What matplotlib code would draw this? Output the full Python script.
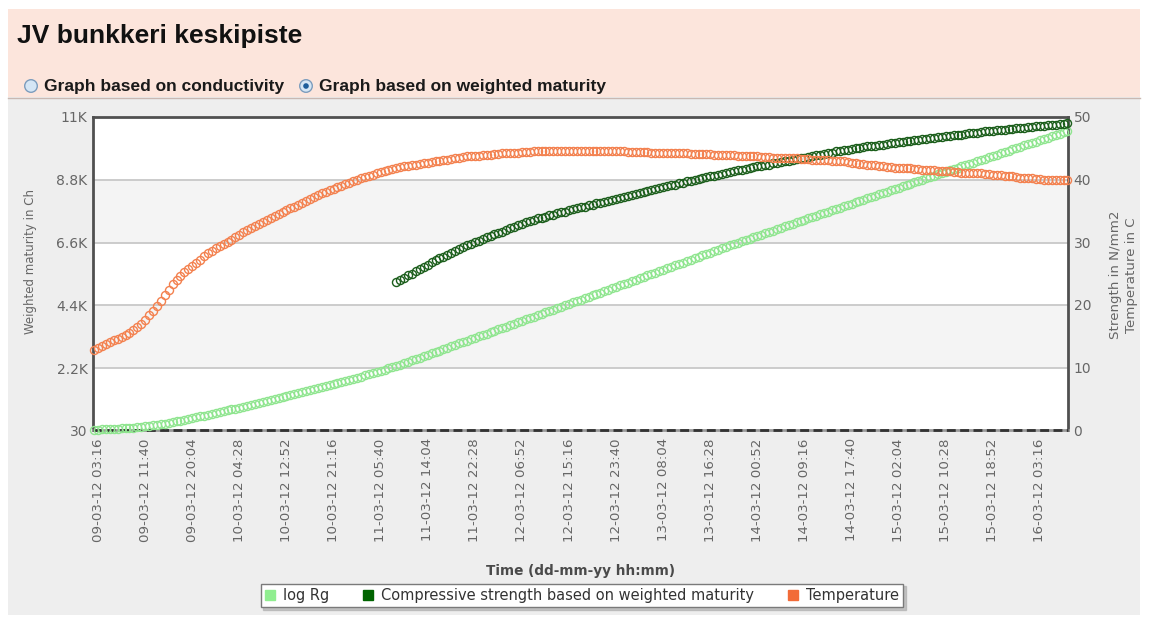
import matplotlib
matplotlib.use("Agg")
import matplotlib.pyplot as plt
from matplotlib.lines import Line2D
from matplotlib.patches import Rectangle, Circle
import numpy as np
import pandas as pd

TITLE = "JV bunkkeri keskipiste"
MODE_OPTIONS = ["Graph based on conductivity", "Graph based on weighted maturity"]
SELECTED_MODE = 1

SERIES_NAMES = ["log Rg", "Compressive strength based on weighted maturity", "Temperature"]

# sampling of the logger (one reading every 42 minutes)
SAMPLE_START = "09-03-12 02:34"
STRENGTH_START = "11-03-12 08:28"
SAMPLE_STEP_MIN = 42

# weighted maturity, Ch (left axis)
LOG_RG = [
    40, 46, 52, 58, 65, 72, 79, 87, 95, 104, 113,
    127, 142, 158, 175, 193, 212, 232, 253, 275,
    302, 330, 358, 386, 415, 444, 474, 504,
    534, 564, 594, 625, 656, 687, 719, 751, 783,
    815, 848, 881, 914, 947, 981, 1015, 1049,
    1082, 1115, 1148, 1181, 1215, 1249, 1283, 1317, 1351,
    1385, 1419, 1453, 1488, 1523, 1558, 1593, 1628,
    1666, 1704, 1743, 1782, 1822, 1862, 1903, 1944,
    1984, 2024, 2064, 2104, 2144, 2186, 2228, 2270,
    2320, 2369, 2419, 2468, 2518, 2567, 2617, 2666, 2716, 2765,
    2815, 2864, 2914, 2963, 3013, 3062, 3112, 3161, 3211, 3260,
    3310, 3359, 3409, 3458, 3508, 3557, 3607, 3656, 3706, 3755,
    3805, 3854, 3904, 3953, 4003, 4052, 4102, 4151, 4201, 4250,
    4300, 4349, 4399,
    4449, 4499, 4549, 4599, 4649, 4699, 4749, 4799, 4849, 4899,
    4949, 4999, 5049, 5099, 5149, 5199, 5249, 5299, 5349, 5399,
    5449, 5499, 5549, 5599, 5649, 5699, 5749, 5799, 5849, 5899,
    5949, 5999, 6049, 6099, 6149, 6199, 6249, 6299, 6349, 6399,
    6449, 6499, 6549, 6599,
    6646, 6693, 6740, 6787, 6834, 6881, 6928, 6975, 7022, 7069,
    7116, 7163, 7210, 7257, 7304, 7351, 7398, 7445, 7492, 7539,
    7586, 7633, 7680, 7727, 7774, 7821, 7868, 7915, 7962, 8009,
    8056, 8103, 8150, 8197, 8244, 8291, 8338, 8385, 8432, 8479,
    8526, 8573, 8620, 8667, 8714, 8761,
    8807, 8853, 8899, 8945, 8991, 9037, 9083, 9129, 9175, 9221,
    9267, 9313, 9359, 9405, 9451, 9497, 9543, 9589, 9635, 9681,
    9727, 9773, 9819, 9865, 9911, 9957, 10003, 10049, 10095, 10141,
    10187, 10233, 10279, 10325, 10371, 10417, 10463, 10509,
]

# compressive strength, N/mm2 (right axis)
STRENGTH = [
    23.6, 24.0, 24.3, 24.7, 25.0, 25.4, 25.7, 26.1, 26.4, 26.8,
    27.1, 27.4, 27.7, 28.0, 28.3, 28.6, 28.9, 29.2,
    29.5, 29.7, 30.0, 30.2, 30.5, 30.8, 31.0, 31.3, 31.5,
    31.7, 32.0, 32.2, 32.5, 32.7, 32.9, 33.2, 33.4,
    33.6, 33.8, 33.9, 34.1, 34.3, 34.4, 34.6, 34.8, 34.9, 35.1, 35.3, 35.4, 35.6,
    35.7, 35.9, 36.0, 36.2, 36.3, 36.5, 36.6, 36.8, 36.9, 37.1, 37.2, 37.4, 37.5, 37.7, 37.8, 38.0,
    38.2, 38.3, 38.5, 38.6, 38.8, 38.9, 39.1, 39.2,
    39.4, 39.5, 39.7, 39.8, 39.9, 40.1, 40.2, 40.4, 40.5,
    40.6, 40.8, 40.9, 41.0, 41.2, 41.3, 41.5, 41.6,
    41.7, 41.8, 42.0, 42.1, 42.2, 42.3, 42.4, 42.6, 42.7,
    42.8, 42.9, 43.0, 43.2, 43.3, 43.4, 43.5, 43.6, 43.8, 43.9, 44.0, 44.1,
    44.2, 44.3, 44.5, 44.6, 44.7, 44.8, 44.9,
    45.0, 45.1, 45.2, 45.3, 45.4, 45.4, 45.5, 45.6, 45.7,
    45.8, 45.9, 46.0, 46.0, 46.1, 46.2, 46.3, 46.4, 46.5,
    46.5, 46.6, 46.7, 46.8, 46.8, 46.9, 47.0, 47.1,
    47.1, 47.2, 47.3, 47.4, 47.4, 47.5, 47.6, 47.7, 47.7,
    47.8, 47.9, 47.9, 48.0, 48.1, 48.1, 48.2, 48.3,
    48.3, 48.4, 48.4, 48.5, 48.6, 48.6, 48.7, 48.7, 48.8, 48.9, 48.9, 49.0,
]

# concrete temperature, C (right axis)
TEMPERATURE = [
    12.8, 13.1, 13.4, 13.7, 14.0, 14.3, 14.6, 14.9, 15.2, 15.5, 15.9,
    16.4, 17.0, 17.6, 18.3, 19.0,
    19.8, 20.6, 21.5, 22.4, 23.3,
    24.0, 24.6, 25.2, 25.7,
    26.2, 26.7, 27.2, 27.8, 28.2,
    28.6, 29.0, 29.4, 29.7, 30.1,
    30.4, 30.8, 31.2, 31.6, 32.0, 32.3,
    32.6, 32.9, 33.3, 33.6, 33.9, 34.2, 34.5, 34.8,
    35.1, 35.4, 35.7, 36.0, 36.3, 36.6, 36.9, 37.2, 37.5,
    37.8, 38.0, 38.3, 38.5, 38.8, 39.0, 39.3, 39.5, 39.8, 40.0, 40.2,
    40.4, 40.6, 40.8, 41.0, 41.2, 41.4, 41.5, 41.7, 41.9,
    42.0, 42.1, 42.2, 42.3, 42.4, 42.5, 42.6, 42.7, 42.8,
    42.9, 43.0, 43.1, 43.2, 43.3, 43.4, 43.5, 43.6,
    43.7, 43.7, 43.8, 43.8, 43.9, 44.0, 44.0, 44.1, 44.1,
    44.2, 44.2, 44.3, 44.3, 44.3, 44.4, 44.4, 44.4,
    44.5, 44.5, 44.5, 44.5, 44.6, 44.6, 44.6, 44.6, 44.6, 44.6, 44.6, 44.6, 44.6,
    44.6, 44.6, 44.6, 44.6, 44.6, 44.5, 44.5, 44.5, 44.5, 44.5, 44.5, 44.4, 44.4, 44.4, 44.4, 44.4,
    44.4, 44.3, 44.3, 44.3, 44.3, 44.2, 44.2, 44.2,
    44.2, 44.2, 44.2, 44.1, 44.1, 44.1, 44.1, 44.1,
    44.1, 44.0, 44.0, 44.0, 43.9, 43.9, 43.9, 43.8, 43.8,
    43.8, 43.7, 43.7, 43.7, 43.6, 43.6, 43.6, 43.5, 43.5,
    43.5, 43.5, 43.4, 43.4, 43.4, 43.3, 43.3, 43.3, 43.2, 43.2, 43.2, 43.1,
    43.1, 43.0, 43.0, 42.9, 42.9, 42.8, 42.7,
    42.6, 42.5, 42.5, 42.4, 42.3, 42.3, 42.2, 42.1, 42.0,
    42.0, 41.9, 41.9, 41.8, 41.8, 41.8, 41.7, 41.7,
    41.6, 41.6, 41.5, 41.5, 41.4, 41.4, 41.3, 41.3, 41.2,
    41.2, 41.1, 41.1, 41.1, 41.0, 41.0, 41.0, 40.9, 40.9,
    40.8, 40.7, 40.7, 40.6, 40.5, 40.5, 40.4, 40.3,
    40.3, 40.2, 40.2, 40.1, 40.1, 40.0, 40.0, 40.0, 39.9, 39.9, 39.9, 39.9,
]

LEFT_TICKS = [30, 2200, 4400, 6600, 8800, 11000]
LEFT_TICK_LABELS = ["30", "2.2K", "4.4K", "6.6K", "8.8K", "11K"]
RIGHT_TICKS = [0, 10, 20, 30, 40, 50]
X_TICK_LABELS = [
    "09-03-12 03:16", "09-03-12 11:40", "09-03-12 20:04", "10-03-12 04:28",
    "10-03-12 12:52", "10-03-12 21:16", "11-03-12 05:40", "11-03-12 14:04",
    "11-03-12 22:28", "12-03-12 06:52", "12-03-12 15:16", "12-03-12 23:40",
    "13-03-12 08:04", "13-03-12 16:28", "14-03-12 00:52", "14-03-12 09:16",
    "14-03-12 17:40", "15-03-12 02:04", "15-03-12 10:28", "15-03-12 18:52",
    "16-03-12 03:16",
]
X_RANGE = ["09-03-12 02:22", "16-03-12 08:16"]

FMT = "%d-%m-%y %H:%M"
REF = pd.to_datetime(X_TICK_LABELS[0], format=FMT)


def hours(stamps):
    return (pd.to_datetime(pd.Series(stamps), format=FMT) - REF) / pd.Timedelta(hours=1)


def sample_hours(start, n):
    t = pd.date_range(pd.to_datetime(start, format=FMT), periods=n,
                      freq=f"{SAMPLE_STEP_MIN}min")
    return ((t - REF) / pd.Timedelta(hours=1)).to_numpy()


W, H = 1150, 621
fig = plt.figure(figsize=(W / 100, H / 100), dpi=100)
fig.patch.set_facecolor("white")

# page furniture drawn in pixel coordinates
bg = fig.add_axes([0, 0, 1, 1])
bg.set_zorder(-1)
bg.set_xlim(0, W)
bg.set_ylim(H, 0)
bg.axis("off")
bg.add_patch(Rectangle((8, 9), 1132, 88, facecolor="#fce5dc", edgecolor="none"))
bg.add_patch(Rectangle((8, 97), 1132, 518, facecolor="#eeeeee", edgecolor="none"))
bg.plot([8, 1140], [97.5, 97.5], color="#c9b8b2", lw=1)

title_font = ["Liberation Sans", "DejaVu Sans"]
bg.text(17, 36, TITLE, fontsize=19, fontweight="bold", family=title_font,
        color="#111111", va="center", ha="left")

radio_x = [31, 306]
for k, (rx, label) in enumerate(zip(radio_x, MODE_OPTIONS)):
    bg.add_patch(Circle((rx, 86), 6.3, facecolor="#d5e6f5", edgecolor="#7d9dbd", lw=1))
    if k == SELECTED_MODE:
        bg.add_patch(Circle((rx, 86), 2.8, facecolor="#1d5d9b", edgecolor="none"))
    bg.text(rx + 13, 86.5, label, fontsize=12.5, fontweight="bold", family=title_font,
            color="#1a1a1a", va="center", ha="left")

# plot area
L, R, T, B = 93, 1068, 117, 430
ax = fig.add_axes([L / W, 1 - B / H, (R - L) / W, (B - T) / H])
ax.set_facecolor("white")
ax.set_ylim(LEFT_TICKS[0], LEFT_TICKS[-1])
ax.set_xlim(*hours(X_RANGE))

for lo, hi in [(LEFT_TICKS[1], LEFT_TICKS[2]), (LEFT_TICKS[3], LEFT_TICKS[4])]:
    ax.axhspan(lo, hi, color="#f4f4f4", zorder=0, lw=0)
for yv in LEFT_TICKS[1:-1]:
    ax.axhline(yv, color="#c4c4c4", lw=1.2, zorder=0.5)

tick_color = "#666666"
ax.set_yticks(LEFT_TICKS, LEFT_TICK_LABELS)
ax.set_xticks(hours(X_TICK_LABELS), X_TICK_LABELS, rotation=90)
ax.tick_params(axis="both", length=0, labelcolor=tick_color)
ax.tick_params(axis="y", pad=4, labelsize=10)
ax.tick_params(axis="x", pad=6, labelsize=9.6)

for side in ["left", "right", "top"]:
    ax.spines[side].set_color("#505050")
    ax.spines[side].set_linewidth(2.0)
ax.spines["bottom"].set_color("#9a9a9a")
ax.spines["bottom"].set_linewidth(2.0)
ax.plot([0, 1], [0, 0], transform=ax.transAxes, color="#333333", lw=2.0,
        dashes=(3.2, 1.6), clip_on=False, zorder=2.6)

ax.set_ylabel("Weighted maturity in Ch", fontsize=8.5, color=tick_color)
ax.yaxis.set_label_coords((37 - L) / (R - L), (B - 262) / (B - T))
ax.set_xlabel("Time (dd-mm-yy hh:mm)", fontsize=9.8, fontweight="bold", color="#4a4a4a")
ax.xaxis.set_label_coords(0.5, (B - 564) / (B - T))

ax2 = ax.twinx()
ax2.set_ylim(RIGHT_TICKS[0], RIGHT_TICKS[-1])
ax2.set_yticks(RIGHT_TICKS)
ax2.tick_params(axis="y", length=0, labelsize=10, labelcolor=tick_color, pad=4)
for s in ax2.spines.values():
    s.set_visible(False)
ax2.set_ylabel("Strength in N/mm2\nTemperature in C", fontsize=9.6, color=tick_color,
               rotation=90, linespacing=1.25)
ax2.yaxis.set_label_coords((1109 - L) / (R - L), (B - 275) / (B - T))

colors = ["#8fe58f", "#1b5e1b", "#f3814f"]
legend_colors = ["#90ee90", "#006400", "#f26b38"]
marker_kw = dict(linestyle="none", marker="o", markerfacecolor="none",
                 markersize=5.8, markeredgewidth=1.0, clip_on=False)

ax.plot(sample_hours(SAMPLE_START, len(LOG_RG)), LOG_RG,
        markeredgecolor=colors[0], zorder=3, **marker_kw)
ax2.plot(sample_hours(STRENGTH_START, len(STRENGTH)), STRENGTH,
         markeredgecolor=colors[1], zorder=3, **marker_kw)
ax2.plot(sample_hours(SAMPLE_START, len(TEMPERATURE)), TEMPERATURE,
         markeredgecolor=colors[2], zorder=3, **marker_kw)

handles = [Line2D([], [], linestyle="none", marker="s", markersize=6.5,
                  markerfacecolor=c, markeredgecolor=c) for c in legend_colors]
leg = fig.legend(handles, SERIES_NAMES, loc="center", ncol=3,
                 bbox_to_anchor=(582 / W, 1 - 595.5 / H),
                 fontsize=10.5, handlelength=0.65, handletextpad=0.6,
                 columnspacing=2.3, borderpad=0.3, fancybox=False,
                 framealpha=1, edgecolor="#7a7a7a",
                 shadow={"ox": 2, "oy": -2, "color": "#b0b0b0", "alpha": 0.7})
leg.get_frame().set_linewidth(1.0)
for t in leg.get_texts():
    t.set_color("#333333")

fig.savefig("out.png", dpi=100, facecolor=fig.get_facecolor())
